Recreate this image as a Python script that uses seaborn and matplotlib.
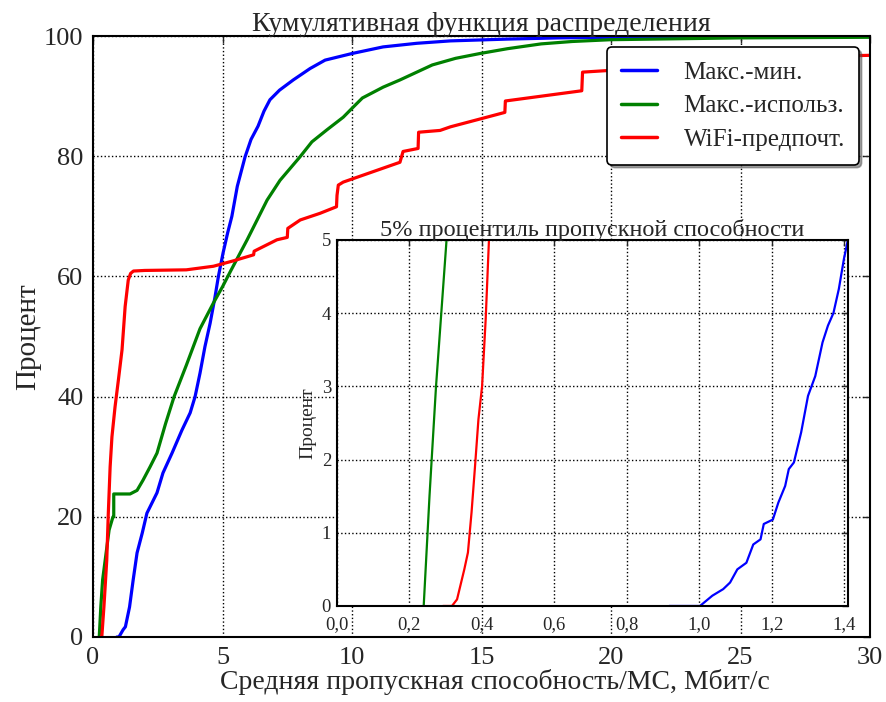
import numpy as np
import pandas as pd
import matplotlib
matplotlib.use("Agg")
import matplotlib.pyplot as plt
from matplotlib.ticker import FuncFormatter
import seaborn as sns

# ---- data: cumulative distribution of mean throughput per MS ----
series_names = ["Макс.-мин.", "Макс.-использ.", "WiFi-предпочт."]
series_colors = ["#0000ff", "#008000", "#ff0000"]

maxmin_x = [0.92, 1.0, 1.16, 1.25, 1.41, 1.55, 1.70, 1.90, 2.08, 2.47, 2.7, 3.05,
            3.43, 3.75, 3.94, 4.13, 4.32, 4.52, 4.71, 4.84, 5.02, 5.2, 5.36,
            5.57, 5.87, 6.1, 6.37, 6.6, 6.83, 7.2, 7.73, 8.38, 8.96, 10.0,
            11.2, 12.5, 13.8, 16.0, 18.0, 20.0, 22.0, 25.0, 30.0]
maxmin_y = [0.0, 0.0, 1.2, 1.7, 5.0, 9.5, 14.0, 17.3, 20.6, 24.0, 27.3, 30.6,
            34.4, 37.3, 40.0, 43.9, 48.3, 52.2, 56.6, 60.0, 63.9, 67.3, 70.0,
            75.0, 79.9, 82.8, 85.0, 87.5, 89.4, 91.0, 92.7, 94.6, 96.0, 97.1,
            98.2, 98.8, 99.2, 99.5, 99.7, 99.8, 99.9, 100.0, 100.0]

maxutil_x = [0.24, 0.30, 0.37, 0.62, 0.77, 0.80, 0.80, 1.43, 1.70, 1.93, 2.20,
             2.47, 2.8, 3.13, 3.6, 4.13, 4.65, 5.0, 5.3, 5.95, 6.72, 7.22,
             7.99, 8.45, 9.03, 9.66, 10.05, 10.4, 11.2, 11.85, 12.6, 13.1,
             14.0, 14.94, 16.0, 17.3, 18.5, 20.0, 25.0, 30.0]
maxutil_y = [0.0, 5.0, 9.5, 17.8, 20.0, 20.0, 23.8, 23.8, 24.4, 26.1, 28.3,
             30.6, 35.5, 40.0, 45.2, 51.3, 55.6, 58.3, 60.8, 66.1, 72.7, 76.0,
             79.9, 82.4, 84.4, 86.5, 88.2, 89.7, 91.5, 92.7, 94.2, 95.2,
             96.3, 97.1, 97.9, 98.7, 99.1, 99.4, 99.7, 99.8]

wifi_x = [0.30, 0.32, 0.34, 0.42, 0.46, 0.53, 0.59, 0.66, 0.73, 0.85, 0.98,
          1.12, 1.24, 1.36, 1.45, 1.56, 2.0, 3.6, 4.65, 5.42, 6.2, 6.22, 6.45,
          7.1, 7.5, 7.52, 8.0, 8.76, 9.4, 9.42, 9.47, 9.66, 11.85, 11.97,
          12.55, 12.57, 13.4, 13.8, 14.94, 15.9, 15.92, 18.87, 18.9, 20.0,
          25.0, 27.0, 30.0]
wifi_y = [0.0, 0.0, 0.1, 5.0, 7.8, 12.8, 20.6, 28.3, 33.3, 38.3, 42.8,
          47.8, 55.0, 59.4, 60.5, 60.9, 61.0, 61.1, 61.7, 62.6, 63.6, 64.2, 64.7,
          66.1, 66.5, 68.0, 69.4, 70.5, 71.6, 73.5, 75.2, 75.7, 79.0, 80.8,
          81.3, 84.0, 84.3, 84.9, 86.2, 87.3, 89.2, 90.9, 94.0, 94.3,
          95.5, 96.5, 96.8]

# lower tail (0-5 %) of the same distributions
tail_maxmin_x = [0.917, 1.002, 1.036, 1.066, 1.085, 1.105, 1.130, 1.149, 1.169,
                 1.178, 1.203, 1.218, 1.237, 1.247, 1.261, 1.281, 1.300, 1.320,
                 1.340, 1.355, 1.370, 1.385, 1.399, 1.41]
tail_maxmin_y = [0.0, 0.0, 0.14, 0.23, 0.32, 0.50, 0.59, 0.84, 0.91,
                 1.12, 1.18, 1.41, 1.64, 1.87, 1.96, 2.37, 2.87, 3.14,
                 3.60, 3.83, 4.00, 4.33, 4.74, 5.0]
tail_maxutil_x = [0.24, 0.256, 0.274, 0.303]
tail_maxutil_y = [0.0, 1.5, 3.0, 5.0]
tail_wifi_x = [0.293, 0.318, 0.332, 0.352, 0.362, 0.372, 0.381, 0.391, 0.401, 0.411, 0.420]
tail_wifi_y = [0.0, 0.0, 0.09, 0.5, 0.73, 1.28, 1.87, 2.55, 3.0, 3.92, 5.0]

main_ticks_x = [0, 5, 10, 15, 20, 25, 30]
main_ticks_y = [0, 20, 40, 60, 80, 100]
tail_ticks_x = [0.0, 0.2, 0.4, 0.6, 0.8, 1.0, 1.2, 1.4]
tail_ticks_y = [0, 1, 2, 3, 4, 5]

title_main = "Кумулятивная функция распределения"
title_tail = "5% процентиль пропускной способности"
xlabel_main = "Средняя пропускная способность/МС, Мбит/с"
ylabel_main = "Процент"

# ---- style ----
sns.set_style("white")
plt.rcParams["font.family"] = ["Liberation Serif", "DejaVu Serif"]
plt.rcParams["xtick.direction"] = "in"
plt.rcParams["ytick.direction"] = "in"
plt.rcParams["axes.edgecolor"] = "black"
plt.rcParams["axes.linewidth"] = 1.5


def frame(parts):
    rows = [pd.DataFrame({"x": xs, "y": ys, "series": name}) for name, xs, ys in parts]
    return pd.concat(rows, ignore_index=True)


main_df = frame([(series_names[0], maxmin_x, maxmin_y),
                 (series_names[1], maxutil_x, maxutil_y),
                 (series_names[2], wifi_x, wifi_y)])
tail_df = frame([(series_names[0], tail_maxmin_x, tail_maxmin_y),
                 (series_names[1], tail_maxutil_x, tail_maxutil_y),
                 (series_names[2], tail_wifi_x, tail_wifi_y)])
palette = dict(zip(series_names, series_colors))

fig = plt.figure(figsize=(8.86, 7.02), dpi=100)
ax = fig.add_axes([0.105, 0.0926, 0.877, 0.856])

sns.lineplot(data=main_df, x="x", y="y", hue="series", palette=palette,
             sort=False, estimator=None, linewidth=2.3, ax=ax)
ax.set_xlim(0, 30)
ax.set_ylim(0, 100)
ax.set_xticks(main_ticks_x)
ax.set_yticks(main_ticks_y)
ax.tick_params(axis="both", which="both", labelsize=19, top=True, right=True,
               length=5, width=1, pad=7)
ax.grid(True, linestyle=":", color="black", linewidth=1.0)
ax.set_title(title_main, fontsize=20, pad=4)
ax.set_xlabel(xlabel_main, fontsize=20)
ax.xaxis.set_label_coords(0.517, -0.054)
ax.set_ylabel(ylabel_main, fontsize=21, labelpad=2)

handles, labels = ax.get_legend_handles_labels()
leg = ax.legend(handles, labels, loc="upper right", fontsize=18,
                frameon=True, fancybox=True, shadow=True, framealpha=1,
                edgecolor="black", borderaxespad=0.45, handlelength=1.45,
                handletextpad=1.05, borderpad=0.55, labelspacing=0.45)
for line in leg.get_lines():
    line.set_linewidth(2.5)
leg.get_frame().set_linewidth(1.2)

# ---- inset: lower tail ----
ins = fig.add_axes([0.380, 0.1368, 0.577, 0.5214])
sns.lineplot(data=tail_df, x="x", y="y", hue="series", palette=palette,
             sort=False, estimator=None, linewidth=1.6, ax=ins, legend=False)
ins.set_xlim(0, 1.41)
ins.set_ylim(0, 5)
ins.set_xticks(tail_ticks_x)
ins.set_yticks(tail_ticks_y)
ins.xaxis.set_major_formatter(FuncFormatter(lambda v, p: f"{v:.1f}".replace(".", ",")))
ins.tick_params(axis="x", labelsize=13.5, top=True, length=4, width=1, pad=7)
ins.tick_params(axis="y", labelsize=13.5, right=True, length=4, width=1, pad=4)
ins.grid(True, linestyle=":", color="black", linewidth=1.0)
ins.set_title(title_tail, fontsize=17.5, pad=3)
ins.set_xlabel("")
ins.set_ylabel(ylabel_main, fontsize=14, labelpad=4)
for s in ins.spines.values():
    s.set_linewidth(1.5)

fig.savefig("out.png", dpi=100)
